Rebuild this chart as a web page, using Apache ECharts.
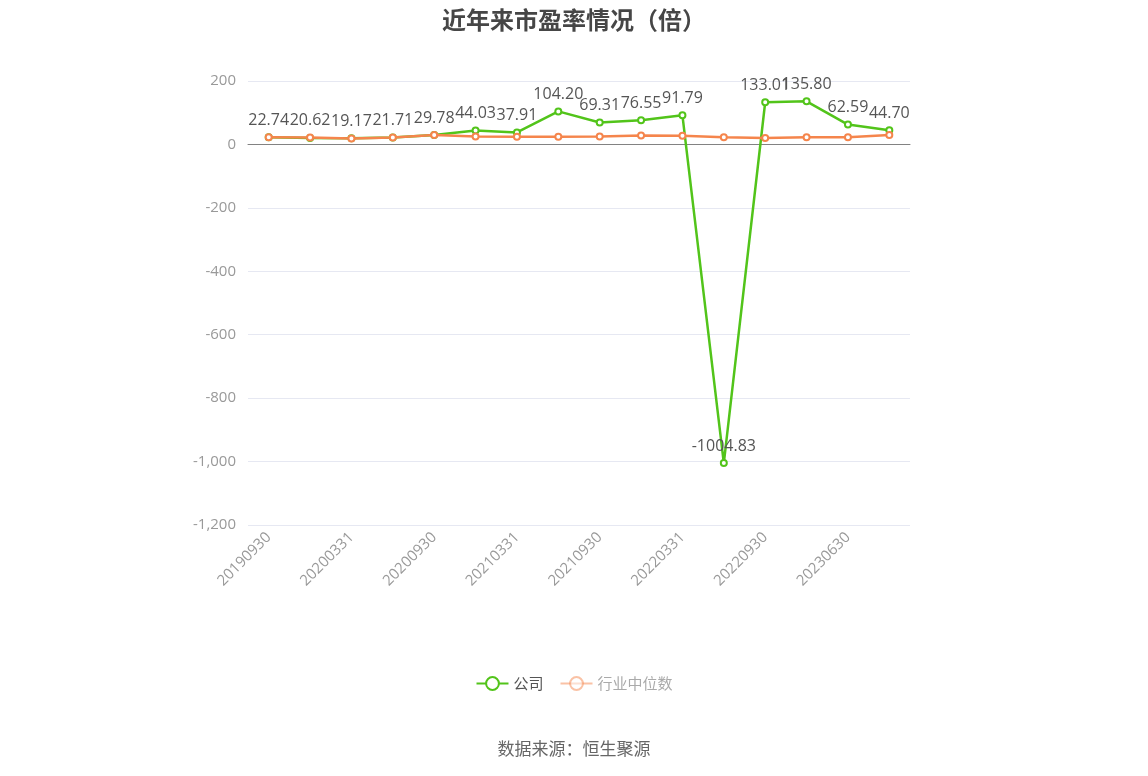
<!DOCTYPE html>
<html>
<head>
    <meta charset="utf-8">
    <title>近年来市盈率情况（倍）</title>
    <script src="https://cdn.jsdelivr.net/npm/echarts@6/dist/echarts.min.js"></script>
    <style>
        html, body { margin: 0; padding: 0; background: #fff; }
        #chart1 { width: 1148px; height: 776px; }
    </style>
</head>
<body>
<div id="chart1"></div>
<script>
    // 报告期
    var dates = ['20190930', '20191231', '20200331', '20200630', '20200930', '20201231',
        '20210331', '20210630', '20210930', '20211231', '20220331', '20220630',
        '20220930', '20230331', '20230630', '20230930'];
    // 公司市盈率
    var companyPE = [22.74, 20.62, 19.17, 21.71, 29.78, 44.03, 37.91, 104.20, 69.31, 76.55,
        91.79, -1004.83, 133.01, 135.80, 62.59, 44.70];
    // 行业中位数（图上估读）
    var industryPE = [22.5, 21.5, 19, 22, 30, 25, 24, 24, 25, 28, 27, 23, 20, 23, 23, 30];

    var green = '#52c41a';
    var orange = '#f5854c';
    var font = 'Open Sans';

    var myChart1 = echarts.init(document.getElementById('chart1'));

    myChart1.setOption({
        title: [{
            text: '近年来市盈率情况（倍）',
            left: 'center',
            top: 3,
            textStyle: { fontSize: 24, fontWeight: 'bold', color: '#464646',
                fontFamily: 'Noto Sans CJK SC' }
        }, {
            text: '数据来源：恒生聚源',
            left: 'center',
            top: 735,
            textStyle: { fontSize: 17, fontWeight: 'normal', color: '#666',
                fontFamily: 'Noto Sans CJK SC' }
        }],
        grid: { left: 248, right: 238, top: 81, bottom: 251 },
        legend: {
            bottom: 80,
            left: 'center',
            itemWidth: 32,
            itemHeight: 16,
            itemGap: 16,
            textStyle: { fontSize: 15, color: '#555', fontFamily: 'Noto Sans CJK SC' },
            data: [
                { name: '公司' },
                { name: '行业中位数',
                  itemStyle: { opacity: 0.5 },
                  lineStyle: { opacity: 0.5 },
                  textStyle: { color: '#aaa' } }
            ]
        },
        xAxis: [{
            type: 'category',
            data: dates,
            boundaryGap: true,
            axisLine: { onZero: true, lineStyle: { color: '#828282' } },
            axisTick: { alignWithLabel: true, interval: 1, length: 6, lineStyle: { color: '#828282' } },
            axisLabel: { show: false },
            splitLine: { show: false }
        }, {
            type: 'category',
            data: dates,
            position: 'bottom',
            boundaryGap: true,
            axisLine: { show: false, onZero: false },
            axisTick: { show: false },
            axisLabel: { interval: 1, rotate: 45, color: '#999', fontSize: 15,
                fontFamily: font, margin: 10 }
        }],
        yAxis: {
            type: 'value',
            min: -1200,
            max: 200,
            interval: 200,
            axisLine: { show: false },
            axisTick: { show: false },
            axisLabel: {
                color: '#999', fontSize: 15, fontFamily: font, margin: 12,
                formatter: function (v) { return v.toLocaleString('en-US'); }
            },
            splitLine: { lineStyle: { color: '#e6e8f2' } }
        },
        series: [{
            name: '公司',
            type: 'line',
            data: companyPE,
            symbol: 'emptyCircle',
            symbolSize: 6,
            itemStyle: { color: green, borderWidth: 2 },
            lineStyle: { color: green, width: 2.5 },
            label: {
                show: true,
                position: 'top',
                color: '#555',
                fontSize: 16,
                fontFamily: font,
                formatter: function (p) { return p.value.toFixed(2); }
            },
            z: 2
        }, {
            name: '行业中位数',
            type: 'line',
            data: industryPE,
            symbol: 'emptyCircle',
            symbolSize: 6,
            itemStyle: { color: orange, borderWidth: 2 },
            lineStyle: { color: orange, width: 2.5 },
            z: 3
        }]
    });
</script>
</body>
</html>
